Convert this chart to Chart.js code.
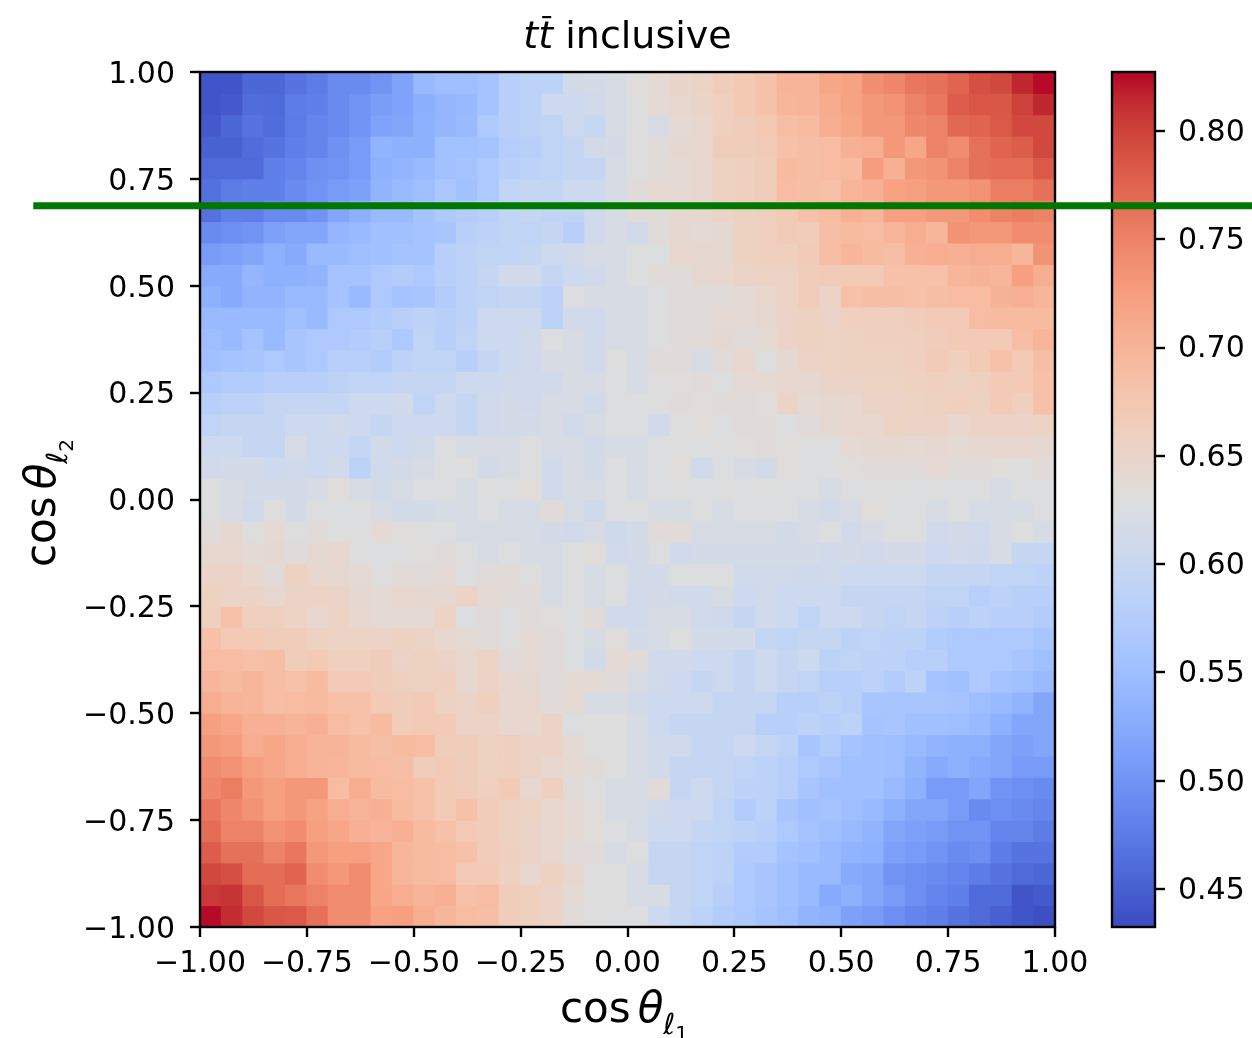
<!DOCTYPE html>
<html>
<head>
<meta charset="utf-8">
<title>tt̄ inclusive</title>
<script src="https://cdn.jsdelivr.net/npm/chart.js@4.4.1/dist/chart.umd.min.js"></script>
<style>
  html, body { margin: 0; padding: 0; background: #fff; }
  .wrap { position: relative; width: 1252px; height: 1038px; }
  .wrap canvas { position: absolute; left: 0; top: 0; }
</style>
</head>
<body>
<div class="wrap">
  <canvas id="cbar" width="1252" height="1038"></canvas>
  <canvas id="heat" width="1252" height="1038"></canvas>
</div>
<script>
// bin edges, same for cos theta_l1 (x) and cos theta_l2 (y)
const binEdges = [-1.00, -0.95, -0.90, -0.85, -0.80, -0.75, -0.70, -0.65, -0.60, -0.55,
  -0.50, -0.45, -0.40, -0.35, -0.30, -0.25, -0.20, -0.15, -0.10, -0.05, 0.00,
  0.05, 0.10, 0.15, 0.20, 0.25, 0.30, 0.35, 0.40, 0.45, 0.50,
  0.55, 0.60, 0.65, 0.70, 0.75, 0.80, 0.85, 0.90, 0.95, 1.00];
const axisTicks = [-1, -0.75, -0.5, -0.25, 0, 0.25, 0.5, 0.75, 1];
const cbarTicks = [0.45, 0.50, 0.55, 0.60, 0.65, 0.70, 0.75, 0.80];
const zMin = 0.4325;
const zMax = 0.8272;
const cutValue = 0.687;   // green horizontal line (cos theta_l2)
const cutStartX = -1.39;

// cell values, one row per y bin, top row (0.95..1.00) first, columns left to right
const row00 = [0.440,0.440,0.456,0.456,0.468,0.476,0.490,0.490,0.500,0.515,0.543,0.550,0.550,0.557,0.580,0.586,0.586,0.614,0.618,0.620,0.633,0.640,0.650,0.653,0.665,0.672,0.680,0.700,0.700,0.715,0.720,0.740,0.745,0.760,0.765,0.775,0.790,0.795,0.815,0.825];
const row01 = [0.440,0.445,0.462,0.460,0.476,0.480,0.490,0.500,0.510,0.515,0.530,0.540,0.543,0.557,0.580,0.585,0.605,0.605,0.612,0.620,0.630,0.640,0.645,0.650,0.662,0.672,0.680,0.698,0.700,0.710,0.720,0.730,0.735,0.750,0.760,0.780,0.785,0.785,0.800,0.815];
const row02 = [0.445,0.456,0.468,0.462,0.475,0.485,0.490,0.500,0.515,0.520,0.532,0.540,0.545,0.570,0.580,0.585,0.590,0.605,0.598,0.620,0.630,0.620,0.640,0.645,0.662,0.665,0.672,0.686,0.692,0.708,0.715,0.730,0.730,0.745,0.750,0.772,0.775,0.783,0.795,0.795];
const row03 = [0.452,0.452,0.462,0.468,0.480,0.485,0.497,0.508,0.537,0.532,0.532,0.555,0.555,0.558,0.575,0.580,0.590,0.597,0.613,0.618,0.630,0.635,0.642,0.645,0.665,0.665,0.668,0.683,0.686,0.690,0.705,0.708,0.730,0.715,0.750,0.742,0.765,0.775,0.780,0.795];
const row04 = [0.460,0.460,0.460,0.480,0.485,0.496,0.500,0.508,0.532,0.538,0.545,0.555,0.558,0.568,0.580,0.585,0.590,0.597,0.597,0.620,0.630,0.635,0.640,0.645,0.658,0.662,0.665,0.692,0.686,0.690,0.692,0.725,0.705,0.730,0.735,0.750,0.765,0.768,0.768,0.783];
const row05 = [0.466,0.475,0.480,0.480,0.490,0.500,0.508,0.513,0.537,0.545,0.550,0.565,0.555,0.568,0.590,0.597,0.597,0.605,0.605,0.620,0.635,0.640,0.640,0.645,0.658,0.662,0.665,0.690,0.686,0.683,0.698,0.705,0.720,0.722,0.730,0.730,0.735,0.755,0.755,0.765];
const row06 = [0.466,0.480,0.478,0.490,0.490,0.500,0.520,0.530,0.545,0.545,0.557,0.568,0.575,0.580,0.590,0.597,0.590,0.590,0.612,0.620,0.635,0.635,0.642,0.645,0.652,0.658,0.662,0.670,0.683,0.690,0.705,0.698,0.722,0.722,0.730,0.730,0.742,0.750,0.755,0.750];
const row07 = [0.490,0.495,0.500,0.513,0.520,0.520,0.540,0.545,0.553,0.553,0.557,0.562,0.580,0.585,0.590,0.590,0.597,0.580,0.612,0.620,0.612,0.635,0.642,0.640,0.642,0.658,0.662,0.668,0.665,0.686,0.692,0.690,0.698,0.708,0.698,0.735,0.730,0.730,0.742,0.742];
const row08 = [0.508,0.513,0.520,0.532,0.525,0.545,0.545,0.550,0.553,0.557,0.557,0.580,0.585,0.590,0.590,0.597,0.605,0.612,0.620,0.620,0.627,0.627,0.645,0.642,0.642,0.658,0.662,0.662,0.668,0.686,0.698,0.692,0.686,0.705,0.708,0.705,0.708,0.708,0.698,0.735];
const row09 = [0.525,0.525,0.540,0.532,0.532,0.537,0.557,0.557,0.568,0.573,0.568,0.580,0.585,0.597,0.612,0.610,0.597,0.605,0.612,0.620,0.627,0.635,0.635,0.642,0.645,0.652,0.655,0.655,0.665,0.668,0.670,0.670,0.683,0.683,0.683,0.698,0.702,0.698,0.722,0.708];
const row10 = [0.532,0.525,0.537,0.537,0.545,0.545,0.557,0.545,0.568,0.557,0.562,0.573,0.585,0.590,0.597,0.597,0.585,0.627,0.620,0.620,0.620,0.627,0.635,0.635,0.635,0.640,0.645,0.655,0.665,0.652,0.683,0.686,0.686,0.683,0.686,0.690,0.690,0.702,0.705,0.698];
const row11 = [0.545,0.545,0.545,0.545,0.553,0.545,0.568,0.568,0.573,0.580,0.585,0.580,0.585,0.605,0.605,0.605,0.585,0.612,0.612,0.620,0.620,0.630,0.635,0.635,0.640,0.640,0.642,0.652,0.658,0.652,0.662,0.662,0.662,0.665,0.670,0.670,0.690,0.692,0.692,0.692];
const row12 = [0.550,0.545,0.557,0.545,0.562,0.568,0.568,0.573,0.580,0.568,0.590,0.580,0.590,0.605,0.605,0.612,0.627,0.620,0.612,0.620,0.620,0.627,0.635,0.635,0.642,0.635,0.640,0.652,0.658,0.655,0.658,0.662,0.662,0.662,0.665,0.670,0.670,0.670,0.686,0.698];
const row13 = [0.553,0.557,0.562,0.568,0.562,0.568,0.580,0.580,0.573,0.585,0.590,0.590,0.580,0.597,0.605,0.612,0.620,0.620,0.612,0.630,0.620,0.635,0.635,0.620,0.635,0.645,0.630,0.642,0.652,0.655,0.658,0.658,0.658,0.662,0.668,0.662,0.670,0.683,0.670,0.686];
const row14 = [0.568,0.573,0.573,0.580,0.580,0.580,0.585,0.590,0.590,0.597,0.597,0.597,0.605,0.605,0.612,0.612,0.612,0.620,0.620,0.627,0.620,0.630,0.633,0.635,0.630,0.640,0.640,0.645,0.645,0.652,0.652,0.655,0.655,0.658,0.662,0.658,0.662,0.670,0.670,0.683];
const row15 = [0.580,0.585,0.585,0.597,0.597,0.597,0.597,0.605,0.605,0.612,0.590,0.605,0.597,0.612,0.615,0.612,0.620,0.620,0.612,0.627,0.627,0.630,0.635,0.633,0.635,0.635,0.633,0.652,0.640,0.642,0.645,0.652,0.652,0.655,0.658,0.662,0.658,0.670,0.662,0.683];
const row16 = [0.590,0.597,0.597,0.597,0.605,0.605,0.612,0.605,0.597,0.605,0.605,0.605,0.597,0.612,0.615,0.615,0.620,0.612,0.620,0.627,0.627,0.612,0.630,0.633,0.627,0.635,0.635,0.627,0.635,0.642,0.645,0.645,0.655,0.652,0.652,0.645,0.655,0.652,0.652,0.655];
const row17 = [0.605,0.605,0.597,0.597,0.620,0.605,0.605,0.597,0.612,0.605,0.612,0.627,0.620,0.620,0.620,0.627,0.620,0.620,0.615,0.620,0.620,0.627,0.630,0.627,0.630,0.633,0.635,0.633,0.630,0.627,0.640,0.642,0.642,0.640,0.642,0.640,0.642,0.645,0.645,0.642];
const row18 = [0.612,0.615,0.615,0.605,0.612,0.605,0.612,0.585,0.612,0.615,0.620,0.627,0.630,0.615,0.620,0.627,0.612,0.620,0.615,0.627,0.620,0.627,0.633,0.612,0.627,0.620,0.615,0.633,0.627,0.630,0.633,0.635,0.635,0.635,0.640,0.635,0.635,0.633,0.630,0.635];
const row19 = [0.627,0.620,0.615,0.615,0.615,0.620,0.633,0.620,0.615,0.620,0.627,0.627,0.620,0.630,0.627,0.633,0.612,0.620,0.620,0.627,0.620,0.627,0.630,0.627,0.630,0.627,0.630,0.627,0.627,0.620,0.627,0.630,0.630,0.627,0.630,0.627,0.630,0.620,0.627,0.627];
const row20 = [0.627,0.620,0.612,0.630,0.615,0.627,0.627,0.627,0.620,0.615,0.615,0.620,0.620,0.627,0.620,0.620,0.635,0.620,0.608,0.627,0.627,0.620,0.620,0.627,0.620,0.627,0.627,0.627,0.620,0.615,0.620,0.633,0.627,0.627,0.620,0.627,0.620,0.620,0.620,0.627];
const row21 = [0.635,0.642,0.630,0.640,0.630,0.635,0.630,0.630,0.640,0.633,0.630,0.627,0.620,0.620,0.620,0.620,0.615,0.612,0.620,0.608,0.615,0.635,0.635,0.620,0.620,0.620,0.620,0.615,0.620,0.627,0.612,0.620,0.627,0.627,0.612,0.615,0.612,0.620,0.627,0.620];
const row22 = [0.645,0.645,0.640,0.642,0.635,0.642,0.645,0.630,0.627,0.630,0.633,0.635,0.630,0.620,0.627,0.620,0.620,0.627,0.633,0.612,0.615,0.627,0.612,0.615,0.615,0.615,0.615,0.615,0.615,0.612,0.615,0.612,0.615,0.615,0.605,0.612,0.608,0.620,0.597,0.597];
const row23 = [0.652,0.652,0.645,0.635,0.658,0.645,0.642,0.640,0.630,0.635,0.635,0.640,0.627,0.635,0.635,0.630,0.620,0.630,0.620,0.627,0.615,0.615,0.627,0.627,0.627,0.612,0.612,0.612,0.608,0.612,0.605,0.605,0.605,0.605,0.597,0.597,0.597,0.590,0.590,0.585];
const row24 = [0.658,0.652,0.652,0.645,0.652,0.655,0.652,0.642,0.640,0.645,0.642,0.642,0.652,0.640,0.635,0.635,0.620,0.627,0.620,0.627,0.612,0.615,0.612,0.612,0.620,0.605,0.612,0.605,0.605,0.605,0.597,0.597,0.597,0.597,0.590,0.590,0.580,0.585,0.580,0.580];
const row25 = [0.662,0.683,0.662,0.662,0.655,0.645,0.655,0.645,0.640,0.640,0.640,0.655,0.627,0.635,0.627,0.635,0.633,0.627,0.635,0.612,0.612,0.620,0.620,0.612,0.608,0.597,0.612,0.605,0.590,0.605,0.605,0.597,0.590,0.597,0.585,0.580,0.585,0.580,0.580,0.573];
const row26 = [0.683,0.670,0.670,0.665,0.665,0.658,0.655,0.655,0.652,0.658,0.652,0.645,0.640,0.635,0.630,0.640,0.635,0.627,0.620,0.633,0.615,0.620,0.627,0.615,0.615,0.615,0.597,0.590,0.597,0.597,0.585,0.590,0.585,0.585,0.573,0.568,0.568,0.568,0.568,0.562];
const row27 = [0.690,0.690,0.683,0.686,0.665,0.670,0.662,0.662,0.665,0.652,0.658,0.652,0.645,0.655,0.635,0.640,0.635,0.627,0.615,0.640,0.635,0.612,0.612,0.605,0.605,0.597,0.605,0.597,0.605,0.585,0.590,0.585,0.585,0.580,0.580,0.568,0.568,0.568,0.562,0.553];
const row28 = [0.698,0.692,0.698,0.686,0.683,0.692,0.670,0.670,0.665,0.662,0.658,0.662,0.645,0.652,0.645,0.642,0.635,0.640,0.640,0.635,0.620,0.612,0.605,0.597,0.605,0.597,0.605,0.597,0.590,0.580,0.580,0.585,0.573,0.585,0.557,0.553,0.568,0.557,0.553,0.545];
const row29 = [0.708,0.700,0.698,0.686,0.690,0.692,0.683,0.683,0.670,0.665,0.670,0.658,0.652,0.662,0.645,0.645,0.635,0.640,0.620,0.620,0.615,0.605,0.605,0.605,0.597,0.597,0.597,0.580,0.580,0.585,0.580,0.562,0.562,0.562,0.562,0.557,0.550,0.545,0.537,0.520];
const row30 = [0.722,0.715,0.705,0.705,0.700,0.705,0.690,0.683,0.692,0.665,0.670,0.670,0.652,0.652,0.645,0.645,0.652,0.627,0.630,0.630,0.620,0.605,0.597,0.597,0.597,0.597,0.580,0.580,0.585,0.580,0.585,0.557,0.562,0.553,0.553,0.550,0.545,0.532,0.520,0.520];
const row31 = [0.730,0.725,0.708,0.715,0.708,0.700,0.700,0.692,0.686,0.692,0.690,0.665,0.665,0.658,0.662,0.652,0.652,0.640,0.630,0.630,0.620,0.612,0.612,0.597,0.597,0.605,0.597,0.585,0.562,0.573,0.557,0.553,0.550,0.545,0.537,0.532,0.532,0.520,0.513,0.520];
const row32 = [0.742,0.735,0.722,0.715,0.708,0.700,0.698,0.692,0.690,0.686,0.665,0.670,0.665,0.658,0.662,0.652,0.645,0.640,0.635,0.630,0.620,0.612,0.597,0.597,0.597,0.590,0.585,0.580,0.568,0.562,0.553,0.553,0.550,0.537,0.525,0.532,0.525,0.520,0.508,0.508];
const row33 = [0.745,0.755,0.730,0.722,0.730,0.730,0.690,0.708,0.692,0.690,0.683,0.670,0.665,0.662,0.670,0.645,0.662,0.635,0.630,0.620,0.620,0.635,0.597,0.605,0.597,0.585,0.585,0.580,0.562,0.553,0.553,0.553,0.545,0.532,0.508,0.508,0.520,0.500,0.495,0.490];
const row34 = [0.760,0.745,0.735,0.722,0.730,0.720,0.708,0.700,0.705,0.692,0.683,0.670,0.683,0.665,0.658,0.655,0.645,0.640,0.633,0.620,0.620,0.612,0.605,0.605,0.590,0.573,0.585,0.562,0.553,0.557,0.550,0.545,0.532,0.520,0.520,0.508,0.490,0.495,0.490,0.485];
const row35 = [0.768,0.750,0.750,0.735,0.742,0.722,0.715,0.705,0.700,0.705,0.692,0.683,0.670,0.665,0.658,0.652,0.645,0.640,0.633,0.627,0.620,0.605,0.605,0.597,0.590,0.585,0.580,0.568,0.557,0.550,0.545,0.537,0.520,0.513,0.508,0.500,0.500,0.485,0.485,0.476];
const row36 = [0.780,0.765,0.765,0.750,0.760,0.730,0.722,0.722,0.715,0.698,0.692,0.690,0.683,0.665,0.662,0.652,0.645,0.635,0.635,0.620,0.627,0.597,0.597,0.590,0.585,0.573,0.573,0.557,0.553,0.545,0.537,0.532,0.513,0.508,0.500,0.490,0.495,0.476,0.468,0.468];
const row37 = [0.795,0.790,0.768,0.768,0.775,0.742,0.730,0.742,0.715,0.698,0.692,0.690,0.670,0.670,0.658,0.645,0.658,0.645,0.630,0.630,0.620,0.597,0.597,0.590,0.585,0.568,0.562,0.553,0.545,0.545,0.525,0.520,0.500,0.495,0.490,0.485,0.476,0.468,0.460,0.456];
const row38 = [0.805,0.808,0.785,0.768,0.760,0.750,0.742,0.742,0.715,0.708,0.700,0.705,0.683,0.690,0.665,0.662,0.652,0.640,0.630,0.630,0.620,0.620,0.597,0.590,0.580,0.568,0.562,0.553,0.545,0.525,0.532,0.520,0.508,0.495,0.485,0.480,0.460,0.460,0.440,0.445];
const row39 = [0.825,0.812,0.795,0.785,0.783,0.765,0.742,0.742,0.720,0.722,0.708,0.698,0.690,0.686,0.665,0.662,0.652,0.635,0.630,0.627,0.627,0.605,0.597,0.585,0.573,0.568,0.557,0.550,0.537,0.532,0.513,0.508,0.495,0.485,0.480,0.468,0.460,0.450,0.440,0.435];

const rows = [row00, row01, row02, row03, row04, row05, row06, row07, row08, row09,
  row10, row11, row12, row13, row14, row15, row16, row17, row18, row19,
  row20, row21, row22, row23, row24, row25, row26, row27, row28, row29,
  row30, row31, row32, row33, row34, row35, row36, row37, row38, row39];

// matplotlib coolwarm (Moreland), 33 anchors
const coolwarm = [
  [59,76,192],[68,90,204],[77,104,215],[87,117,225],[98,130,234],[108,142,241],
  [119,154,247],[130,165,251],[141,176,254],[152,185,255],[163,194,255],[174,201,253],
  [184,208,249],[194,213,244],[204,217,238],[213,219,230],[221,221,221],[229,216,209],
  [236,211,197],[241,204,184],[245,196,172],[247,187,160],[247,177,148],[247,166,135],
  [244,154,123],[241,141,111],[236,127,99],[229,112,88],[222,96,77],[213,80,66],
  [203,62,56],[192,40,47],[180,4,38]
];

function cmap(t) {
  t = Math.max(0, Math.min(1, t));
  const p = t * (coolwarm.length - 1);
  const i = Math.min(Math.floor(p), coolwarm.length - 2);
  const f = p - i;
  const a = coolwarm[i], b = coolwarm[i + 1];
  const c = a.map((v, k) => Math.round(v + (b[k] - v) * f));
  return `rgb(${c[0]},${c[1]},${c[2]})`;
}
const colorFor = v => cmap((v - zMin) / (zMax - zMin));

const fmt = v => (v < 0 ? '\u2212' : '') + Math.abs(v).toFixed(2);
const FONT = 'DejaVu Sans';

// one floating-bar dataset per y bin
const nBins = binEdges.length - 1;
const datasets = rows.map((vals, r) => {
  const lo = binEdges[nBins - 1 - r];
  const hi = binEdges[nBins - r];
  return {
    data: vals.map((v, c) => ({ x: (binEdges[c] + binEdges[c + 1]) / 2, y: [lo, hi] })),
    backgroundColor: vals.map(colorFor),
    borderWidth: 0,
    grouped: false,
    barPercentage: 1,
    categoryPercentage: 1,
    inflateAmount: 0.5
  };
});

// draw a math-like label from pieces: {t, f, dy, gap}
function drawPieces(ctx, pieces, cx, baseY) {
  let w = 0;
  pieces.forEach(p => {
    ctx.font = p.f;
    p.w = ctx.measureText(p.t).width + (p.gap || 0);
    w += p.w;
  });
  let x = cx - w / 2;
  pieces.forEach(p => {
    ctx.font = p.f;
    ctx.fillText(p.t, x + (p.gap || 0), baseY + (p.dy || 0));
    if (p.bar) {
      const tw = p.w - (p.gap || 0);
      ctx.fillRect(x + tw / 2 - 3.5, baseY - 32, 9, 2.2);
    }
    x += p.w;
  });
}

const decorPlugin = {
  id: 'decor',
  afterDatasetsDraw(chart) {
    const { ctx, chartArea: a } = chart;
    ctx.save();
    ctx.strokeStyle = '#000';
    ctx.lineWidth = 2.4;
    ctx.strokeRect(a.left, a.top, a.right - a.left, a.bottom - a.top);
    ctx.restore();
  },
  afterDraw(chart) {
    const { ctx, chartArea: a, scales } = chart;
    ctx.save();
    ctx.fillStyle = '#000';
    ctx.textAlign = 'left';
    ctx.textBaseline = 'alphabetic';

    // title
    drawPieces(ctx, [
      { t: 't', f: `italic 38px ${FONT}` },
      { t: 't', f: `italic 38px ${FONT}`, bar: true },
      { t: ' inclusive', f: `38px ${FONT}` }
    ], (a.left + a.right) / 2, 48);

    // x axis label
    drawPieces(ctx, [
      { t: 'cos', f: `42px ${FONT}` },
      { t: '\u03b8', f: `italic 42px ${FONT}`, gap: 7 },
      { t: '\u2113', f: `italic 29px ${FONT}`, dy: 12 },
      { t: '1', f: `20px ${FONT}`, dy: 18 }
    ], (a.left + a.right) / 2 - 3.5, 1022);

    // y axis label
    ctx.translate(55, (a.top + a.bottom) / 2 + 3.5);
    ctx.rotate(-Math.PI / 2);
    drawPieces(ctx, [
      { t: 'cos', f: `42px ${FONT}` },
      { t: '\u03b8', f: `italic 42px ${FONT}`, gap: 7 },
      { t: '\u2113', f: `italic 29px ${FONT}`, dy: 12 },
      { t: '2', f: `20px ${FONT}`, dy: 18 }
    ], 0, 0);
    ctx.restore();

    // green horizontal cut line across the whole figure
    const y = scales.y.getPixelForValue(cutValue);
    ctx.save();
    ctx.strokeStyle = '#007700';
    ctx.lineWidth = 7;
    ctx.beginPath();
    ctx.moveTo(scales.x.getPixelForValue(cutStartX), y);
    ctx.lineTo(chart.width, y);
    ctx.stroke();
    ctx.restore();
  }
};

const gridOpts = { display: true, drawOnChartArea: false, drawTicks: true, tickLength: 10, tickColor: '#000', tickWidth: 2.4, lineWidth: 0, offset: false };

const axisBase = {
  type: 'linear', min: -1, max: 1, offset: false,
  afterBuildTicks: s => { s.ticks = axisTicks.map(v => ({ value: v })); },
  grid: gridOpts,
  border: { display: false }
};

new Chart(document.getElementById('heat'), {
  type: 'bar',
  data: { datasets },
  options: {
    responsive: false,
    animation: false,
    devicePixelRatio: 1,
    layout: { padding: { left: 0, top: 72, right: 197, bottom: 0 } },
    plugins: { legend: { display: false }, tooltip: { enabled: false } },
    scales: {
      x: Object.assign({}, axisBase, {
        afterFit: s => { s.height = 111; },
        ticks: { autoSkip: false, maxRotation: 0, minRotation: 0, padding: 9, color: '#000', font: { family: FONT, size: 30 }, callback: fmt }
      }),
      y: Object.assign({}, axisBase, {
        afterFit: s => { s.width = 200; },
        ticks: { autoSkip: false, padding: 15, labelOffset: 3, color: '#000', font: { family: FONT, size: 30 }, callback: fmt }
      })
    }
  },
  plugins: [decorPlugin]
});

// colour bar
const cbarFrame = {
  id: 'cbarFrame',
  afterDatasetsDraw(chart) {
    const { ctx, chartArea: a } = chart;
    ctx.save();
    ctx.strokeStyle = '#000';
    ctx.lineWidth = 2.4;
    ctx.strokeRect(a.left, a.top, a.right - a.left, a.bottom - a.top);
    ctx.restore();
  }
};

new Chart(document.getElementById('cbar'), {
  type: 'bar',
  data: {
    labels: [''],
    datasets: [{
      data: [[zMin, zMax]],
      backgroundColor: c => {
        const a = c.chart.chartArea;
        if (!a) return '#ddd';
        const g = c.chart.ctx.createLinearGradient(0, a.bottom, 0, a.top);
        coolwarm.forEach((rgb, i) => g.addColorStop(i / (coolwarm.length - 1), `rgb(${rgb.join(',')})`));
        return g;
      },
      borderWidth: 0,
      barPercentage: 1,
      categoryPercentage: 1,
      inflateAmount: 0
    }]
  },
  options: {
    responsive: false,
    animation: false,
    devicePixelRatio: 1,
    layout: { padding: { left: 1112, top: 72, right: 0, bottom: 111 } },
    plugins: { legend: { display: false }, tooltip: { enabled: false } },
    scales: {
      x: { display: false },
      y: {
        type: 'linear', position: 'right', min: zMin, max: zMax,
        afterBuildTicks: s => { s.ticks = cbarTicks.map(v => ({ value: v })); },
        afterFit: s => { s.width = 97; },
        grid: { display: true, drawOnChartArea: false, drawTicks: true, tickLength: 10, tickColor: '#000', tickWidth: 2.4, lineWidth: 0 },
        border: { display: false },
        ticks: { padding: 13, labelOffset: 2, color: '#000', font: { family: FONT, size: 30 }, callback: v => v.toFixed(2) }
      }
    }
  },
  plugins: [cbarFrame]
});
</script>
</body>
</html>
